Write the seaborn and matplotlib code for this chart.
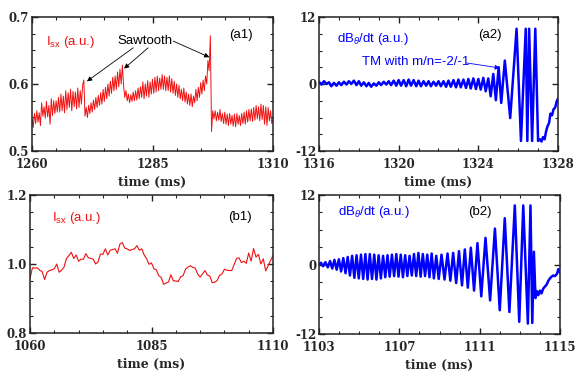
import numpy as np
import seaborn as sns
import matplotlib.pyplot as plt
from matplotlib.ticker import MultipleLocator, FormatStrFormatter

# ---- dados ----
# (a1) I_sx, amostras a cada 0.25 ms de 1260 a 1310
a1_t = np.arange(1260, 1310.001, 0.25)
a1_v = [
    0.548, 0.535, 0.556, 0.541, 0.560, 0.543, 0.557, 0.538,
    0.572, 0.552, 0.566, 0.549, 0.574, 0.551, 0.568, 0.540,
    0.578, 0.553, 0.575, 0.556, 0.575, 0.558, 0.580, 0.558,
    0.585, 0.560, 0.582, 0.557, 0.590, 0.562, 0.587, 0.565,
    0.592, 0.560, 0.589, 0.566, 0.588, 0.563, 0.594, 0.565,
    0.590, 0.570, 0.598, 0.606, 0.552, 0.565, 0.550, 0.568,
    0.556, 0.572, 0.558, 0.576, 0.562, 0.580, 0.565, 0.583,
    0.568, 0.587, 0.570, 0.592, 0.574, 0.595, 0.578, 0.600,
    0.582, 0.604, 0.586, 0.610, 0.590, 0.612, 0.592, 0.618,
    0.596, 0.622, 0.600, 0.628, 0.598, 0.580, 0.590, 0.575,
    0.585, 0.572, 0.584, 0.574, 0.588, 0.575, 0.590, 0.576,
    0.594, 0.578, 0.596, 0.580, 0.603, 0.578, 0.600, 0.582,
    0.605, 0.580, 0.603, 0.585, 0.607, 0.586, 0.610, 0.588,
    0.612, 0.590, 0.609, 0.592, 0.614, 0.592, 0.612, 0.590,
    0.610, 0.590, 0.612, 0.588, 0.608, 0.586, 0.604, 0.583,
    0.600, 0.580, 0.598, 0.578, 0.592, 0.575, 0.594, 0.573,
    0.588, 0.570, 0.585, 0.568, 0.585, 0.566, 0.582, 0.572,
    0.592, 0.575, 0.595, 0.580, 0.602, 0.585, 0.606, 0.590,
    0.612, 0.600, 0.635, 0.620, 0.672, 0.529, 0.560, 0.548,
    0.560, 0.545, 0.558, 0.546, 0.562, 0.544, 0.556, 0.541,
    0.558, 0.540, 0.555, 0.538, 0.556, 0.540, 0.553, 0.537,
    0.555, 0.536, 0.556, 0.540, 0.553, 0.538, 0.556, 0.541,
    0.558, 0.540, 0.560, 0.543, 0.562, 0.545, 0.563, 0.544,
    0.565, 0.546, 0.568, 0.548, 0.566, 0.545, 0.570, 0.547,
    0.568, 0.540, 0.566, 0.538, 0.565, 0.545, 0.560, 0.541,
    0.548,
]

# (b1) I_sx, amostras a cada 0.5 ms de 1060 a 1110
b1_t = np.arange(1060, 1110.001, 0.5)
b1_v = [
    0.958, 0.989, 0.988, 0.989, 0.982, 0.978, 0.955, 0.976, 0.981, 0.983,
    0.986, 1.000, 0.976, 0.982, 0.991, 1.016, 1.024, 1.034, 1.016, 1.026,
    1.008, 1.014, 1.014, 1.030, 1.018, 1.016, 1.014, 1.000, 1.006, 1.029,
    1.028, 1.044, 1.026, 1.040, 1.042, 1.044, 1.031, 1.058, 1.062, 1.046,
    1.044, 1.039, 1.042, 1.044, 1.053, 1.040, 1.044, 1.026, 1.015, 0.999,
    1.003, 0.986, 0.983, 0.966, 0.961, 0.941, 0.945, 0.948, 0.969, 0.951,
    0.951, 0.949, 0.963, 0.966, 0.985, 0.991, 0.995, 0.990, 0.988, 0.971,
    0.962, 0.971, 0.981, 0.968, 0.965, 0.946, 0.947, 0.952, 0.967, 0.971,
    0.985, 0.982, 0.981, 0.981, 0.998, 1.016, 1.018, 1.004, 1.008, 1.002,
    1.032, 1.008, 1.045, 1.020, 1.028, 1.000, 1.015, 0.980, 0.995, 1.010,
    1.025,
]

# (a2) dB/dt, picos e vales
a2_t = [
    1316.00, 1316.12, 1316.25, 1316.38, 1316.50, 1316.62, 1316.75, 1316.88,
    1317.00, 1317.12, 1317.25, 1317.38, 1317.50, 1317.62, 1317.75, 1317.88,
    1318.00, 1318.12, 1318.25, 1318.38, 1318.50, 1318.62, 1318.75, 1318.88,
    1319.00, 1319.12, 1319.25, 1319.38, 1319.50, 1319.62, 1319.75, 1319.88,
    1320.00, 1320.12, 1320.25, 1320.38, 1320.50, 1320.62, 1320.75, 1320.88,
    1321.00, 1321.12, 1321.25, 1321.38, 1321.50, 1321.62, 1321.75, 1321.88,
    1322.00, 1322.12, 1322.25, 1322.38, 1322.50, 1322.62, 1322.75, 1322.88,
    1323.00, 1323.12, 1323.25, 1323.38, 1323.50, 1323.62, 1323.75, 1323.88,
    1324.00, 1324.12, 1324.25, 1324.37, 1324.50, 1324.62, 1324.75, 1324.88,
    1325.02, 1325.15, 1325.33, 1325.60, 1325.92, 1326.14, 1326.38, 1326.46,
    1326.55, 1326.70, 1326.86, 1327.00, 1327.10, 1327.17, 1327.25, 1327.33,
    1327.40, 1327.47, 1327.55, 1327.62, 1327.70, 1327.78, 1327.86, 1327.93,
    1328.00,
]
a2_v = [
    0.4, -0.1, 0.5, 0.0, 0.3, -0.4, 0.2, -0.3,
    0.3, -0.2, 0.4, -0.1, 0.5, 0.0, 0.6, -0.2,
    0.5, -0.3, 0.3, -0.4, 0.2, -0.5, 0.1, -0.3,
    0.3, -0.2, 0.4, -0.1, 0.5, -0.2, 0.6, -0.3,
    0.7, -0.3, 0.7, -0.4, 0.8, -0.3, 0.7, -0.4,
    0.6, -0.4, 0.5, -0.3, 0.5, -0.4, 0.4, -0.3,
    0.5, -0.4, 0.5, -0.5, 0.6, -0.5, 0.7, -0.6,
    0.8, -0.6, 0.8, -0.7, 0.9, -0.8, 1.0, -0.9,
    0.9, -1.0, 1.1, -1.3, 1.0, -2.2, 1.8, -2.9,
    3.0, -3.4, 4.2, -6.1, 9.9, -10.2, 9.9, -10.2,
    9.9, -10.2, 9.9, -10.2, -9.9, -10.3, -9.5, -9.9,
    -8.5, -7.6, -7.0, -5.3, -5.6, -4.5, -4.2, -3.2,
    -2.6,
]

# (b2) dB/dt, picos e vales
b2_t = [
    1103.00, 1103.10, 1103.20, 1103.32, 1103.44, 1103.55, 1103.66, 1103.77,
    1103.88, 1103.99, 1104.10, 1104.21, 1104.32, 1104.43, 1104.54, 1104.65,
    1104.76, 1104.87, 1104.98, 1105.09, 1105.20, 1105.31, 1105.42, 1105.53,
    1105.64, 1105.75, 1105.86, 1105.97, 1106.08, 1106.19, 1106.30, 1106.41,
    1106.52, 1106.63, 1106.74, 1106.85, 1106.96, 1107.07, 1107.18, 1107.29,
    1107.40, 1107.51, 1107.62, 1107.73, 1107.84, 1107.95, 1108.06, 1108.17,
    1108.28, 1108.39, 1108.50, 1108.61, 1108.72, 1108.84, 1108.96, 1109.10,
    1109.25, 1109.40, 1109.54, 1109.68, 1109.83, 1109.97, 1110.12, 1110.26,
    1110.41, 1110.56, 1110.72, 1110.89, 1111.08, 1111.29, 1111.52, 1111.76,
    1112.00, 1112.25, 1112.48, 1112.75, 1112.97, 1113.17, 1113.40, 1113.53,
    1113.62, 1113.70, 1113.78, 1113.85, 1113.92, 1114.00, 1114.08, 1114.16,
    1114.25, 1114.33, 1114.42, 1114.50, 1114.58, 1114.66, 1114.75, 1114.85,
    1114.92, 1115.00,
]
b2_v = [
    0.0, 0.3, -0.3, 0.4, -0.5, 0.6, -0.7, 0.8,
    -0.9, 0.9, -1.2, 1.1, -1.5, 1.3, -1.9, 1.5,
    -2.3, 1.6, -2.4, 1.7, -2.5, 1.8, -2.6, 1.8,
    -2.5, 1.7, -2.6, 1.6, -2.4, 1.5, -2.2, 1.6,
    -2.1, 1.7, -2.0, 1.8, -2.1, 1.7, -2.2, 1.6,
    -2.0, 1.5, -1.9, 1.8, -2.0, 2.0, -2.1, 1.8,
    -2.0, 1.7, -2.2, 1.9, -2.4, 1.5, -2.5, 1.7,
    -2.6, 1.9, -2.8, 2.0, -3.2, 2.3, -3.6, 2.6,
    -4.0, 2.9, -4.5, 3.7, -5.5, 4.6, -6.2, 6.2,
    -7.9, 8.0, -8.2, 10.2, -9.9, 10.2, -10.2, 10.2,
    -10.1, 2.2, -5.8, -4.6, -5.3, -4.5, -5.0, -4.2,
    -3.8, -3.5, -2.8, -2.4, -2.1, -1.9, -2.0, -1.6,
    -0.8, -1.4,
]

# marcas dos eixos
a1_xticks = [1260, 1285, 1310]
b1_xticks = [1060, 1085, 1110]
a2_xticks = [1316, 1320, 1324, 1328]
b2_xticks = [1103, 1107, 1111, 1115]

# ---- estilo ----
sns.set_theme(style="ticks")
plt.rcParams['font.family'] = ['Liberation Sans', 'DejaVu Sans']
plt.rcParams['mathtext.fontset'] = 'custom'
plt.rcParams['mathtext.rm'] = 'Liberation Sans'
plt.rcParams['mathtext.it'] = 'Liberation Sans:italic'

tick_font = dict(family='DejaVu Serif', weight='bold', size=8.5)
label_font = dict(family='DejaVu Serif', weight='bold', size=9)

W, H = 583, 380
fig = plt.figure(figsize=(W / 100, H / 100), dpi=100)

def make_ax(l, r, t, b):
    return fig.add_axes([l / W, (H - b) / H, (r - l) / W, (b - t) / H])

ax_a1 = make_ax(32, 273, 17, 151)
ax_a2 = make_ax(319, 558, 17, 151)
ax_b1 = make_ax(30, 273, 195, 333)
ax_b2 = make_ax(319, 560, 195, 334)

red = '#f01010'
blue = '#0000ff'

sns.lineplot(x=a1_t, y=a1_v, ax=ax_a1, color=red, linewidth=0.7, sort=False)
sns.lineplot(x=b1_t, y=b1_v, ax=ax_b1, color=red, linewidth=0.8, sort=False)
sns.lineplot(x=a2_t, y=a2_v, ax=ax_a2, color=blue, linewidth=1.8, sort=False)
sns.lineplot(x=b2_t, y=b2_v, ax=ax_b2, color=blue, linewidth=1.8, sort=False)

def style(ax, xticks, xmin, ylim, ymaj, ymin, yfmt):
    ax.set_xlim(xticks[0], xticks[-1])
    ax.set_ylim(*ylim)
    ax.set_xticks(xticks)
    ax.xaxis.set_minor_locator(MultipleLocator(xmin))
    ax.yaxis.set_major_locator(MultipleLocator(ymaj))
    ax.yaxis.set_minor_locator(MultipleLocator(ymin))
    ax.yaxis.set_major_formatter(FormatStrFormatter(yfmt))
    ax.tick_params(which='both', direction='in', top=True, right=True,
                   color='#222222')
    ax.tick_params(axis='x', pad=5)
    ax.tick_params(axis='y', pad=2)
    ax.tick_params(which='major', length=4, width=1.0)
    ax.tick_params(which='minor', length=2.5, width=0.8)
    for s in ax.spines.values():
        s.set_linewidth(1.1)
        s.set_color('#222222')
    for lab in ax.get_xticklabels() + ax.get_yticklabels():
        lab.set_fontproperties(tick_font)
    ax.set_xlabel('time (ms)', fontdict=label_font, labelpad=3.5)
    ax.set_ylabel('')

style(ax_a1, a1_xticks, 5, (0.5, 0.7), 0.1, 0.025, '%.1f')
style(ax_b1, b1_xticks, 5, (0.8, 1.2), 0.2, 0.05, '%.1f')
style(ax_a2, a2_xticks, 1, (-12, 12), 12, 3, '%d')
style(ax_b2, b2_xticks, 1, (-12, 12), 12, 3, '%d')

# ---- textos ----
txt = dict(fontsize=9.5, va='center')
ax_a1.text(0.06, 0.815, 'I$_{\\rm sx}$ (a.u.)', color=red, transform=ax_a1.transAxes, **txt)
ax_a1.text(0.82, 0.866, '(a1)', color='black', transform=ax_a1.transAxes, **txt)
ax_a1.text(1283.5, 0.664, 'Sawtooth', color='black', ha='center', fontsize=9.5, va='center')
arr = dict(arrowstyle='-|>', color='black', lw=0.6, mutation_scale=7, shrinkA=0, shrinkB=0)
ax_a1.annotate('', xy=(1271.4, 0.604), xytext=(1281.0, 0.654), arrowprops=arr)
ax_a1.annotate('', xy=(1279.1, 0.623), xytext=(1284.1, 0.654), arrowprops=arr)
ax_a1.annotate('', xy=(1296.8, 0.640), xytext=(1289.3, 0.664), arrowprops=arr)

ax_b1.text(0.09, 0.833, 'I$_{\\rm sx}$ (a.u.)', color=red, transform=ax_b1.transAxes, **txt)
ax_b1.text(0.815, 0.84, '(b1)', color='black', transform=ax_b1.transAxes, **txt)

ax_a2.text(0.075, 0.836, 'dB$_\\theta$/dt (a.u.)', color=blue, transform=ax_a2.transAxes, **txt)
ax_a2.text(0.665, 0.866, '(a2)', color='black', transform=ax_a2.transAxes, **txt)
ax_a2.text(0.18, 0.664, 'TM with m/n=-2/-1', color=blue, transform=ax_a2.transAxes, **txt)
ax_a2.annotate('', xy=(1325.08, 2.86), xytext=(1323.43, 3.76),
               arrowprops=dict(arrowstyle='-|>', color=blue, lw=0.6, mutation_scale=7,
                               shrinkA=0, shrinkB=0))

ax_b2.text(0.079, 0.878, 'dB$_\\theta$/dt (a.u.)', color=blue, transform=ax_b2.transAxes, **txt)
ax_b2.text(0.62, 0.878, '(b2)', color='black', transform=ax_b2.transAxes, **txt)

fig.savefig('out.png', dpi=100)
